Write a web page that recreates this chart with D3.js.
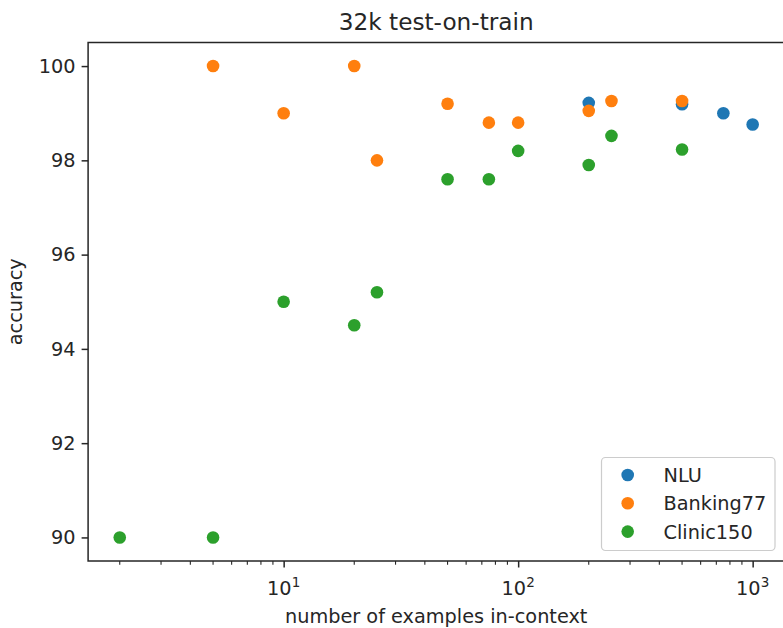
<!DOCTYPE html>
<html>
<head>
<meta charset="utf-8">
<script src="https://cdn.jsdelivr.net/npm/d3@7"></script>
<style>
  html, body { margin: 0; padding: 0; background: #fff; }
  svg { display: block; }
  text { font-family: "DejaVu Sans", sans-serif; fill: #262626; }
</style>
</head>
<body>
<script>
// Accuracy vs. number of in-context examples, per dataset
const nluExamples = [200, 500, 750, 1000];
const nluAccuracy = [99.22, 99.19, 99.0, 98.76];

const bankingExamples = [5, 10, 20, 25, 50, 75, 100, 200, 250, 500];
const bankingAccuracy = [100, 99.0, 100, 98.0, 99.2, 98.8, 98.8, 99.05, 99.26, 99.26];

const clinicExamples = [2, 5, 10, 20, 25, 50, 75, 100, 200, 250, 500];
const clinicAccuracy = [90, 90, 95.0, 94.5, 95.2, 97.6, 97.6, 98.2, 97.9, 98.52, 98.23];

const seriesNames = ["NLU", "Banking77", "Clinic150"];
const seriesColors = ["#1f77b4", "#ff7f0e", "#2ca02c"];

const xTickValues = [10, 100, 1000];
const yTickValues = [90, 92, 94, 96, 98, 100];

const titleText = "32k test-on-train";
const xLabelText = "number of examples in-context";
const yLabelText = "accuracy";

const W = 783, H = 628;
const plotLeft = 88.1, plotRight = 784.3, plotTop = 42.5, plotBottom = 561;
const labelSize = "19.3px", titleSize = "23.2px";

const series = [
  { name: seriesNames[0], color: seriesColors[0], xs: nluExamples, ys: nluAccuracy },
  { name: seriesNames[1], color: seriesColors[1], xs: bankingExamples, ys: bankingAccuracy },
  { name: seriesNames[2], color: seriesColors[2], xs: clinicExamples, ys: clinicAccuracy }
];

// 5% padding on both axes (log-space for x)
const allX = series.flatMap(s => s.xs), allY = series.flatMap(s => s.ys);
const lx0 = Math.log10(d3.min(allX)), lx1 = Math.log10(d3.max(allX));
const padX = (lx1 - lx0) * 0.05;
const yMinVal = d3.min(allY), yMaxVal = d3.max(allY);
const padY = (yMaxVal - yMinVal) * 0.05;

const x = d3.scaleLog()
  .domain([Math.pow(10, lx0 - padX), Math.pow(10, lx1 + padX)])
  .range([plotLeft, plotRight]);
const y = d3.scaleLinear()
  .domain([yMinVal - padY, yMaxVal + padY])
  .range([plotBottom, plotTop]);

const svg = d3.select("body").append("svg")
  .attr("width", W).attr("height", H);

svg.append("rect").attr("width", W).attr("height", H).attr("fill", "#fff");

// Points, drawn in series order so later series sit on top
const plot = svg.append("g");
series.forEach(s => {
  plot.selectAll(null)
    .data(s.xs.map((v, i) => [v, s.ys[i]]))
    .join("circle")
    .attr("cx", d => x(d[0]))
    .attr("cy", d => y(d[1]))
    .attr("r", 6.3)
    .attr("fill", s.color);
});

// Spines
svg.append("rect")
  .attr("x", plotLeft).attr("y", plotTop)
  .attr("width", plotRight - plotLeft).attr("height", plotBottom - plotTop)
  .attr("fill", "none").attr("stroke", "#262626").attr("stroke-width", 1.5);

// Y axis
const yAxis = svg.append("g")
  .attr("transform", `translate(${plotLeft},0)`)
  .call(d3.axisLeft(y).tickValues(yTickValues).tickSize(6.5).tickPadding(6).tickFormat(d3.format("d")));
yAxis.select(".domain").remove();
yAxis.selectAll(".tick line").attr("stroke", "#262626").attr("stroke-width", 1.5);
yAxis.selectAll(".tick text")
  .attr("font-size", labelSize)
  .attr("font-family", "DejaVu Sans")
  .attr("fill", "#262626");

// X axis: major ticks at decades, minor ticks at 2..9 multiples
const xAxis = svg.append("g")
  .attr("transform", `translate(0,${plotBottom})`)
  .call(d3.axisBottom(x).tickValues(xTickValues).tickSize(6.5).tickFormat(""));
xAxis.select(".domain").remove();
xAxis.selectAll(".tick line").attr("stroke", "#262626").attr("stroke-width", 1.5);

const [dmin, dmax] = x.domain();
const minorTicks = [];
for (let e = 0; e <= 3; e++) {
  for (let m = 2; m <= 9; m++) {
    const v = m * Math.pow(10, e);
    if (v >= dmin && v <= dmax) minorTicks.push(v);
  }
}
svg.append("g").selectAll("line")
  .data(minorTicks)
  .join("line")
  .attr("x1", d => x(d)).attr("x2", d => x(d))
  .attr("y1", plotBottom).attr("y2", plotBottom + 3.7)
  .attr("stroke", "#262626").attr("stroke-width", 1.1);

// Decade labels as 10 with superscript exponent
xTickValues.forEach(v => {
  const t = svg.append("text")
    .attr("x", x(v))
    .attr("y", 594.5)
    .attr("text-anchor", "middle")
    .attr("font-size", labelSize);
  t.append("tspan").text("10");
  t.append("tspan")
    .attr("font-size", "13.5px")
    .attr("dy", "-7.5")
    .text(String(Math.round(Math.log10(v))));
});

// Title and axis labels
svg.append("text")
  .attr("x", (plotLeft + plotRight) / 2)
  .attr("y", 29.5)
  .attr("text-anchor", "middle")
  .attr("font-size", titleSize)
  .text(titleText);

svg.append("text")
  .attr("x", (plotLeft + plotRight) / 2)
  .attr("y", 622.5)
  .attr("text-anchor", "middle")
  .attr("font-size", labelSize)
  .text(xLabelText);

svg.append("text")
  .attr("transform", `translate(21.5,${(plotTop + plotBottom) / 2}) rotate(-90)`)
  .attr("text-anchor", "middle")
  .attr("font-size", labelSize)
  .text(yLabelText);

// Legend
const legend = svg.append("g");
legend.append("rect")
  .attr("x", 601.5).attr("y", 457.5)
  .attr("width", 173.5).attr("height", 93)
  .attr("rx", 4).attr("ry", 4)
  .attr("fill", "#fff").attr("fill-opacity", 0.8)
  .attr("stroke", "#cccccc").attr("stroke-width", 1.2);

series.forEach((s, i) => {
  const cy = 475 + i * 28.3;
  legend.append("circle")
    .attr("cx", 627.7).attr("cy", cy).attr("r", 6.3)
    .attr("fill", s.color);
  legend.append("text")
    .attr("x", 663.5).attr("y", cy + 6.9)
    .attr("font-size", labelSize)
    .text(s.name);
});
</script>
</body>
</html>
